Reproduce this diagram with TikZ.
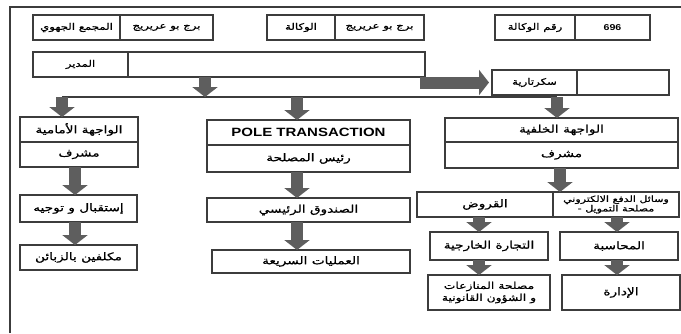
\documentclass[tikz,border=0pt]{standalone}
\usepackage{fontspec}
\usetikzlibrary{arrows.meta}
\TeXXeTstate=1
\newfontfamily\arabicfont[Script=Arabic,FakeStretch=1.3,FakeBold=0.8]{DejaVu Sans}
\newfontfamily\latinbold[FakeStretch=1.25]{Liberation Sans Bold}
\newcommand{\artxt}[1]{\beginR#1\endR}
\definecolor{boxline}{HTML}{3C3C3C}
\definecolor{arrowgray}{HTML}{5E5E5E}
\begin{document}
\begin{tikzpicture}[x=1pt,y=-1pt,
  bx/.style={draw=boxline, line width=1.3pt, fill=white, inner sep=1pt, outer sep=0pt,
    anchor=north west, align=center, font=\arabicfont\fontsize{10.5}{12}\selectfont},
  sm/.style={font=\arabicfont\fontsize{9}{10}\selectfont},
  sz/.style 2 args={minimum width=#1pt, minimum height=#2pt},
  bigarrow/.style={draw=arrowgray, line width=12pt, -{Triangle[length=10pt,width=25pt]}},
  bus/.style={draw=boxline, line width=1.3pt},
  frame/.style={draw=boxline, line width=1.3pt}
]
\useasboundingbox (0,0) rectangle (681,333);
\fill[white] (0,0) rectangle (681,333);
\draw[frame] (10,333) -- (10,7) -- (681,7);

% top row
\node[bx, sm, sz={87}{25}] (b1L) at (33,15) {\artxt{المجمع الجهوي}};
\node[bx, sm, sz={93}{25}] (b1R) at (120,15) {\artxt{برج بو عريريج}};
\node[bx, sm, sz={68}{25}] (b2L) at (267,15) {\artxt{الوكالة}};
\node[bx, sm, sz={89}{25}] (b2R) at (335,15) {\artxt{برج بو عريريج}};
\node[bx, sm, sz={80}{25}] (b3L) at (495,15) {\artxt{رقم الوكالة}};
\node[bx, sz={75}{25}, font=\latinbold\fontsize{8.5}{9}\selectfont] (b3R) at (575,15) {696};

% manager and secretary
\node[bx, sm, sz={95}{25}] (mgrL) at (33,52) {\artxt{المدير}};
\node[bx, sz={297}{25}] (mgrR) at (128,52) {};
\node[bx, sm, sz={85}{25}] (secL) at (492,70) {\artxt{سكرتارية}};
\node[bx, sz={92}{25}] (secR) at (577,70) {};

% left column
\node[bx, sz={118}{25}] (f1) at (20,117) {\artxt{الواجهة الأمامية}};
\node[bx, sz={118}{25}] (f2) at (20,142) {\artxt{مشرف}};
\node[bx, sz={117}{27}] (f3) at (20,195) {\artxt{إستقبال و توجيه}};
\node[bx, sz={117}{25}] (f4) at (20,245) {\artxt{مكلفين بالزبائن}};

% middle column
\node[bx, sz={203}{25}, font=\latinbold\fontsize{12}{14}\selectfont] (m1) at (207,120) {POLE TRANSACTION};
\node[bx, sz={203}{27}] (m2) at (207,145) {\artxt{رئيس المصلحة}};
\node[bx, sz={203}{24}] (m3) at (207,198) {\artxt{الصندوق الرئيسي}};
\node[bx, sz={198}{23}] (m4) at (212,250) {\artxt{العمليات السريعة}};

% right column
\node[bx, sz={233}{24}] (r1) at (445,118) {\artxt{الواجهة الخلفية}};
\node[bx, sz={233}{26}] (r2) at (445,142) {\artxt{مشرف}};
\node[bx, sz={136}{25}] (r3L) at (417,192) {\artxt{القروض}};
\node[bx, sz={126}{25}, font=\arabicfont\fontsize{8.5}{9.5}\selectfont] (r3R) at (553,192) {\artxt{وسائل الدفع الالكتروني}\\- \artxt{مصلحة التمويل}};
\node[bx, sz={118}{28}] (r4L) at (430,232) {\artxt{التجارة الخارجية}};
\node[bx, sz={118}{28}] (r4R) at (560,232) {\artxt{المحاسبة}};
\node[bx, sz={122}{35}, font=\arabicfont\fontsize{9.5}{12}\selectfont] (r5L) at (428,275) {\artxt{مصلحة المنازعات}\\\artxt{و الشؤون القانونية}};
\node[bx, sz={118}{35}] (r5R) at (562,275) {\artxt{الإدارة}};

% bus
\coordinate (busL) at (62,97);
\coordinate (busM) at (205,97);
\coordinate (busC) at (297,97);
\coordinate (busR) at (557,97);
\draw[bus] (busL) -- (busR);

% arrows
\draw[bigarrow] (busM |- mgrR.south) -- (busM);
\draw[bigarrow] (secL.west -| 420,0) -- ([xshift=-3pt]secL.west);
\draw[bigarrow] (busL) -- (busL |- f1.north);
\draw[bigarrow] (busC) -- (busC |- m1.north);
\draw[bigarrow] (busR) -- (busR |- r1.north);

\coordinate (xf) at (75,0);
\draw[bigarrow] (xf |- f2.south) -- (xf |- f3.north);
\draw[bigarrow] (xf |- f3.south) -- (xf |- f4.north);

\coordinate (xm) at (297,0);
\draw[bigarrow] (xm |- m2.south) -- (xm |- m3.north);
\draw[bigarrow] (xm |- m3.south) -- (xm |- m4.north);

\coordinate (xr) at (560,0);
\draw[bigarrow] (xr |- r2.south) -- (xr |- r3L.north);
\coordinate (xrl) at (479,0);
\coordinate (xrr) at (617,0);
\draw[bigarrow] (xrl |- r3L.south) -- (xrl |- r4L.north);
\draw[bigarrow] (xrr |- r3R.south) -- (xrr |- r4R.north);
\draw[bigarrow] (xrl |- r4L.south) -- (xrl |- r5L.north);
\draw[bigarrow] (xrr |- r4R.south) -- (xrr |- r5R.north);
\end{tikzpicture}
\end{document}
